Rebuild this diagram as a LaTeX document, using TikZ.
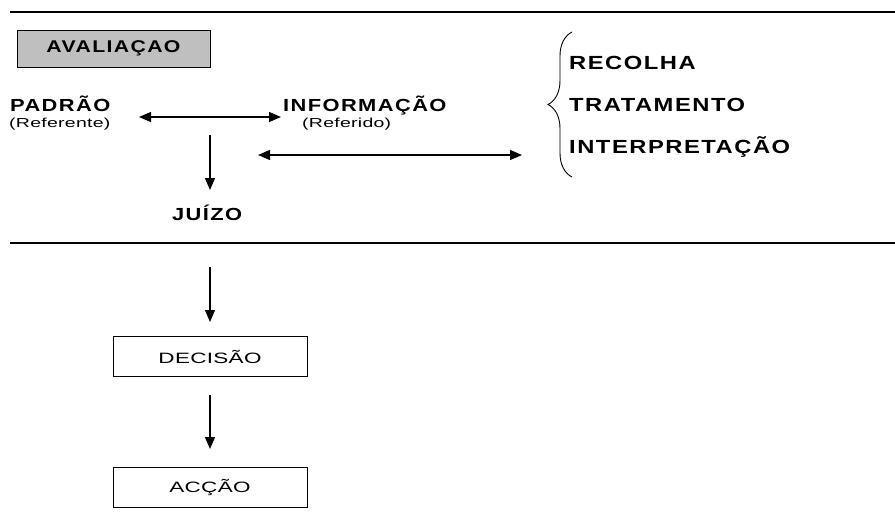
\documentclass[tikz,border=0pt]{standalone}
\usepackage{fontspec}
\setmainfont{Liberation Sans}
\newfontfamily\headfont{Liberation Sans Bold}[FakeStretch=1.25,LetterSpace=8]
\newfontfamily\plainfont{Liberation Sans}[FakeStretch=1.5,LetterSpace=2]
\usetikzlibrary{arrows.meta,decorations.pathreplacing}

\begin{document}
\begin{tikzpicture}[x=1pt, y=-1pt,
  head/.style={inner sep=0, anchor=base west, font=\headfont\fontsize{17.5}{19}\selectfont},
  listitem/.style={inner sep=0, anchor=base west, font=\headfont\fontsize{19}{21}\selectfont},
  note/.style={inner sep=0, anchor=base west, font=\plainfont\fontsize{13}{15}\selectfont},
  stagebox/.style={draw, line width=1pt, minimum width=194pt, minimum height=40pt, inner sep=0, font=\plainfont\fontsize{15}{17}\selectfont},
  oneway/.style={line width=1.3pt, -{Triangle[length=12pt, width=10pt]}},
  twoway/.style={line width=1.3pt, {Triangle[length=12pt, width=10pt]}-{Triangle[length=12pt, width=10pt]}}]

\useasboundingbox (0,0) rectangle (895,514);

\draw [line width=1.3pt] (10,12) -- (895,12);
\draw [line width=1.3pt] (10,243) -- (895,243);

\node [draw, line width=1pt, fill=gray!50, minimum width=193pt, minimum height=37pt, inner sep=0, font=\headfont\fontsize{17}{19}\selectfont] (avaliacao) at (113.5,48.5) {AVALIAÇAO};

\node [head] (padrao) at (10,111) {PADRÃO};
\node [note] (referente) at (9,127) {(Referente)};
\node [head] (informacao) at (283,111) {INFORMAÇÃO};
\node [note] (referido) at (302,127) {(Referido)};
\node [head] (juizo) at (172,220) {JUÍZO};

\node [listitem] (recolha) at (569,69) {RECOLHA};
\node [listitem] (tratamento) at (569,111) {TRATAMENTO};
\node [listitem] (interpretacao) at (569,153) {INTERPRETAÇÃO};
\draw [line width=.9pt, decorate, decoration={brace, amplitude=24pt}] (572,177) -- (572,32);

\coordinate (pi1) at (139,117);
\coordinate (pi2) at (281,117);
\coordinate (ir1) at (258,155);
\coordinate (ir2) at (522,155);
\coordinate (j0) at (210,135);
\coordinate (j1) at (210,190);
\draw [twoway] (pi1) -- (pi2);
\draw [twoway] (ir1) -- (ir2);
\draw [oneway] (j0) -- (j1);

\node [stagebox] (decisao) at (210,356.5) {DECISÃO};
\node [stagebox] (accao) at (210,487.5) {ACÇÃO};
\coordinate (d0) at (210,267);
\draw [oneway, shorten >=14pt] (d0) -- (decisao.north);
\draw [oneway, shorten <=18pt, shorten >=18pt] (decisao.south) -- (accao.north);

\end{tikzpicture}
\end{document}
